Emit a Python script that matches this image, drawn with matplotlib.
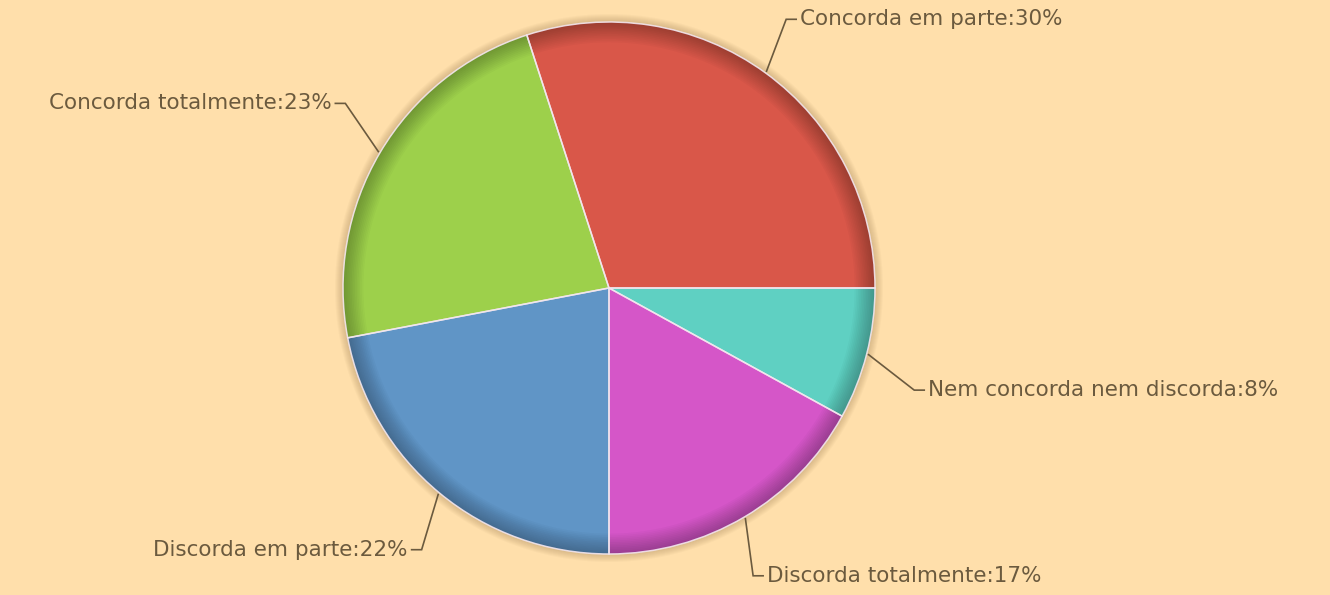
"""Survey answer shares as a shaded pie with elbow leader labels."""
import matplotlib

matplotlib.use("Agg")

import matplotlib.pyplot as plt  # noqa: E402
import numpy as np  # noqa: E402
from matplotlib.patches import Wedge  # noqa: E402

categories = [
    "Concorda em parte",
    "Concorda totalmente",
    "Discorda em parte",
    "Discorda totalmente",
    "Nem concorda nem discorda",
]
shares = [30, 23, 22, 17, 8]
colors = ["#D95749", "#9DD04B", "#6095C6", "#D556C8", "#5FD0C2"]

BG = "#FFDFAB"
TEXT = "#6B5A3E"
W, H = 1330, 595
CENTER = (609, H - 288)
R = 266
# small angular nudges so the labels don't crowd the horizontal axis
label_nudge = [2.6, -4.4, 4.0, -4.0, -4.1]

fig = plt.figure(figsize=(W / 100, H / 100), dpi=100, facecolor=BG)
ax = fig.add_axes([0, 0, 1, 1])

# soft drop shadow round the disc
for k in range(8):
    ax.add_patch(Wedge(CENTER, R + 1 + k, 0, 360, width=1 + k,
                       fc="#7a5a30", alpha=0.035, lw=0, zorder=1))

wedges, _ = ax.pie(shares, colors=colors, startangle=0, counterclock=True,
                   center=CENTER, radius=R, frame=True,
                   wedgeprops=dict(linewidth=0, zorder=2))
ax.set_xlim(0, W)
ax.set_ylim(0, H)
ax.set_aspect("equal")
ax.axis("off")

# inner bevel: darken toward the rim
for k in range(12):
    ax.add_patch(Wedge(CENTER, R, 0, 360, width=1.7 * (k + 1),
                       fc="black", alpha=0.024, lw=0, zorder=3))

# slice separators and rim highlight
for w in wedges:
    ax.add_patch(Wedge(CENTER, R, w.theta1, w.theta2, fill=False,
                       ec="#F3E6EE", lw=1.1, alpha=0.9, zorder=4))

total = sum(shares)
start = 0.0
for name, val, nudge in zip(categories, shares, label_nudge):
    span = 360.0 * val / total
    mid = np.deg2rad(start + span / 2)
    elb = np.deg2rad(start + span / 2 + nudge)
    start += span

    x0 = CENTER[0] + (R + 2) * np.cos(mid)
    y0 = CENTER[1] + (R + 2) * np.sin(mid)
    x1 = CENTER[0] + 1.21 * R * np.cos(elb)
    y1 = CENTER[1] + 1.21 * R * np.sin(elb)
    side = 1 if np.cos(elb) >= 0 else -1
    x2 = x1 + side * 10
    ax.plot([x0, x1, x2], [y0, y1, y1], color=TEXT, lw=1.2, zorder=5,
            solid_joinstyle="miter")
    ax.text(x2 + side * 4, y1, f"{name}:{val}%", color=TEXT, fontsize=15.5,
            family="DejaVu Sans", va="center",
            ha="left" if side > 0 else "right", zorder=6)

fig.savefig("out.png", dpi=100, facecolor=BG)
